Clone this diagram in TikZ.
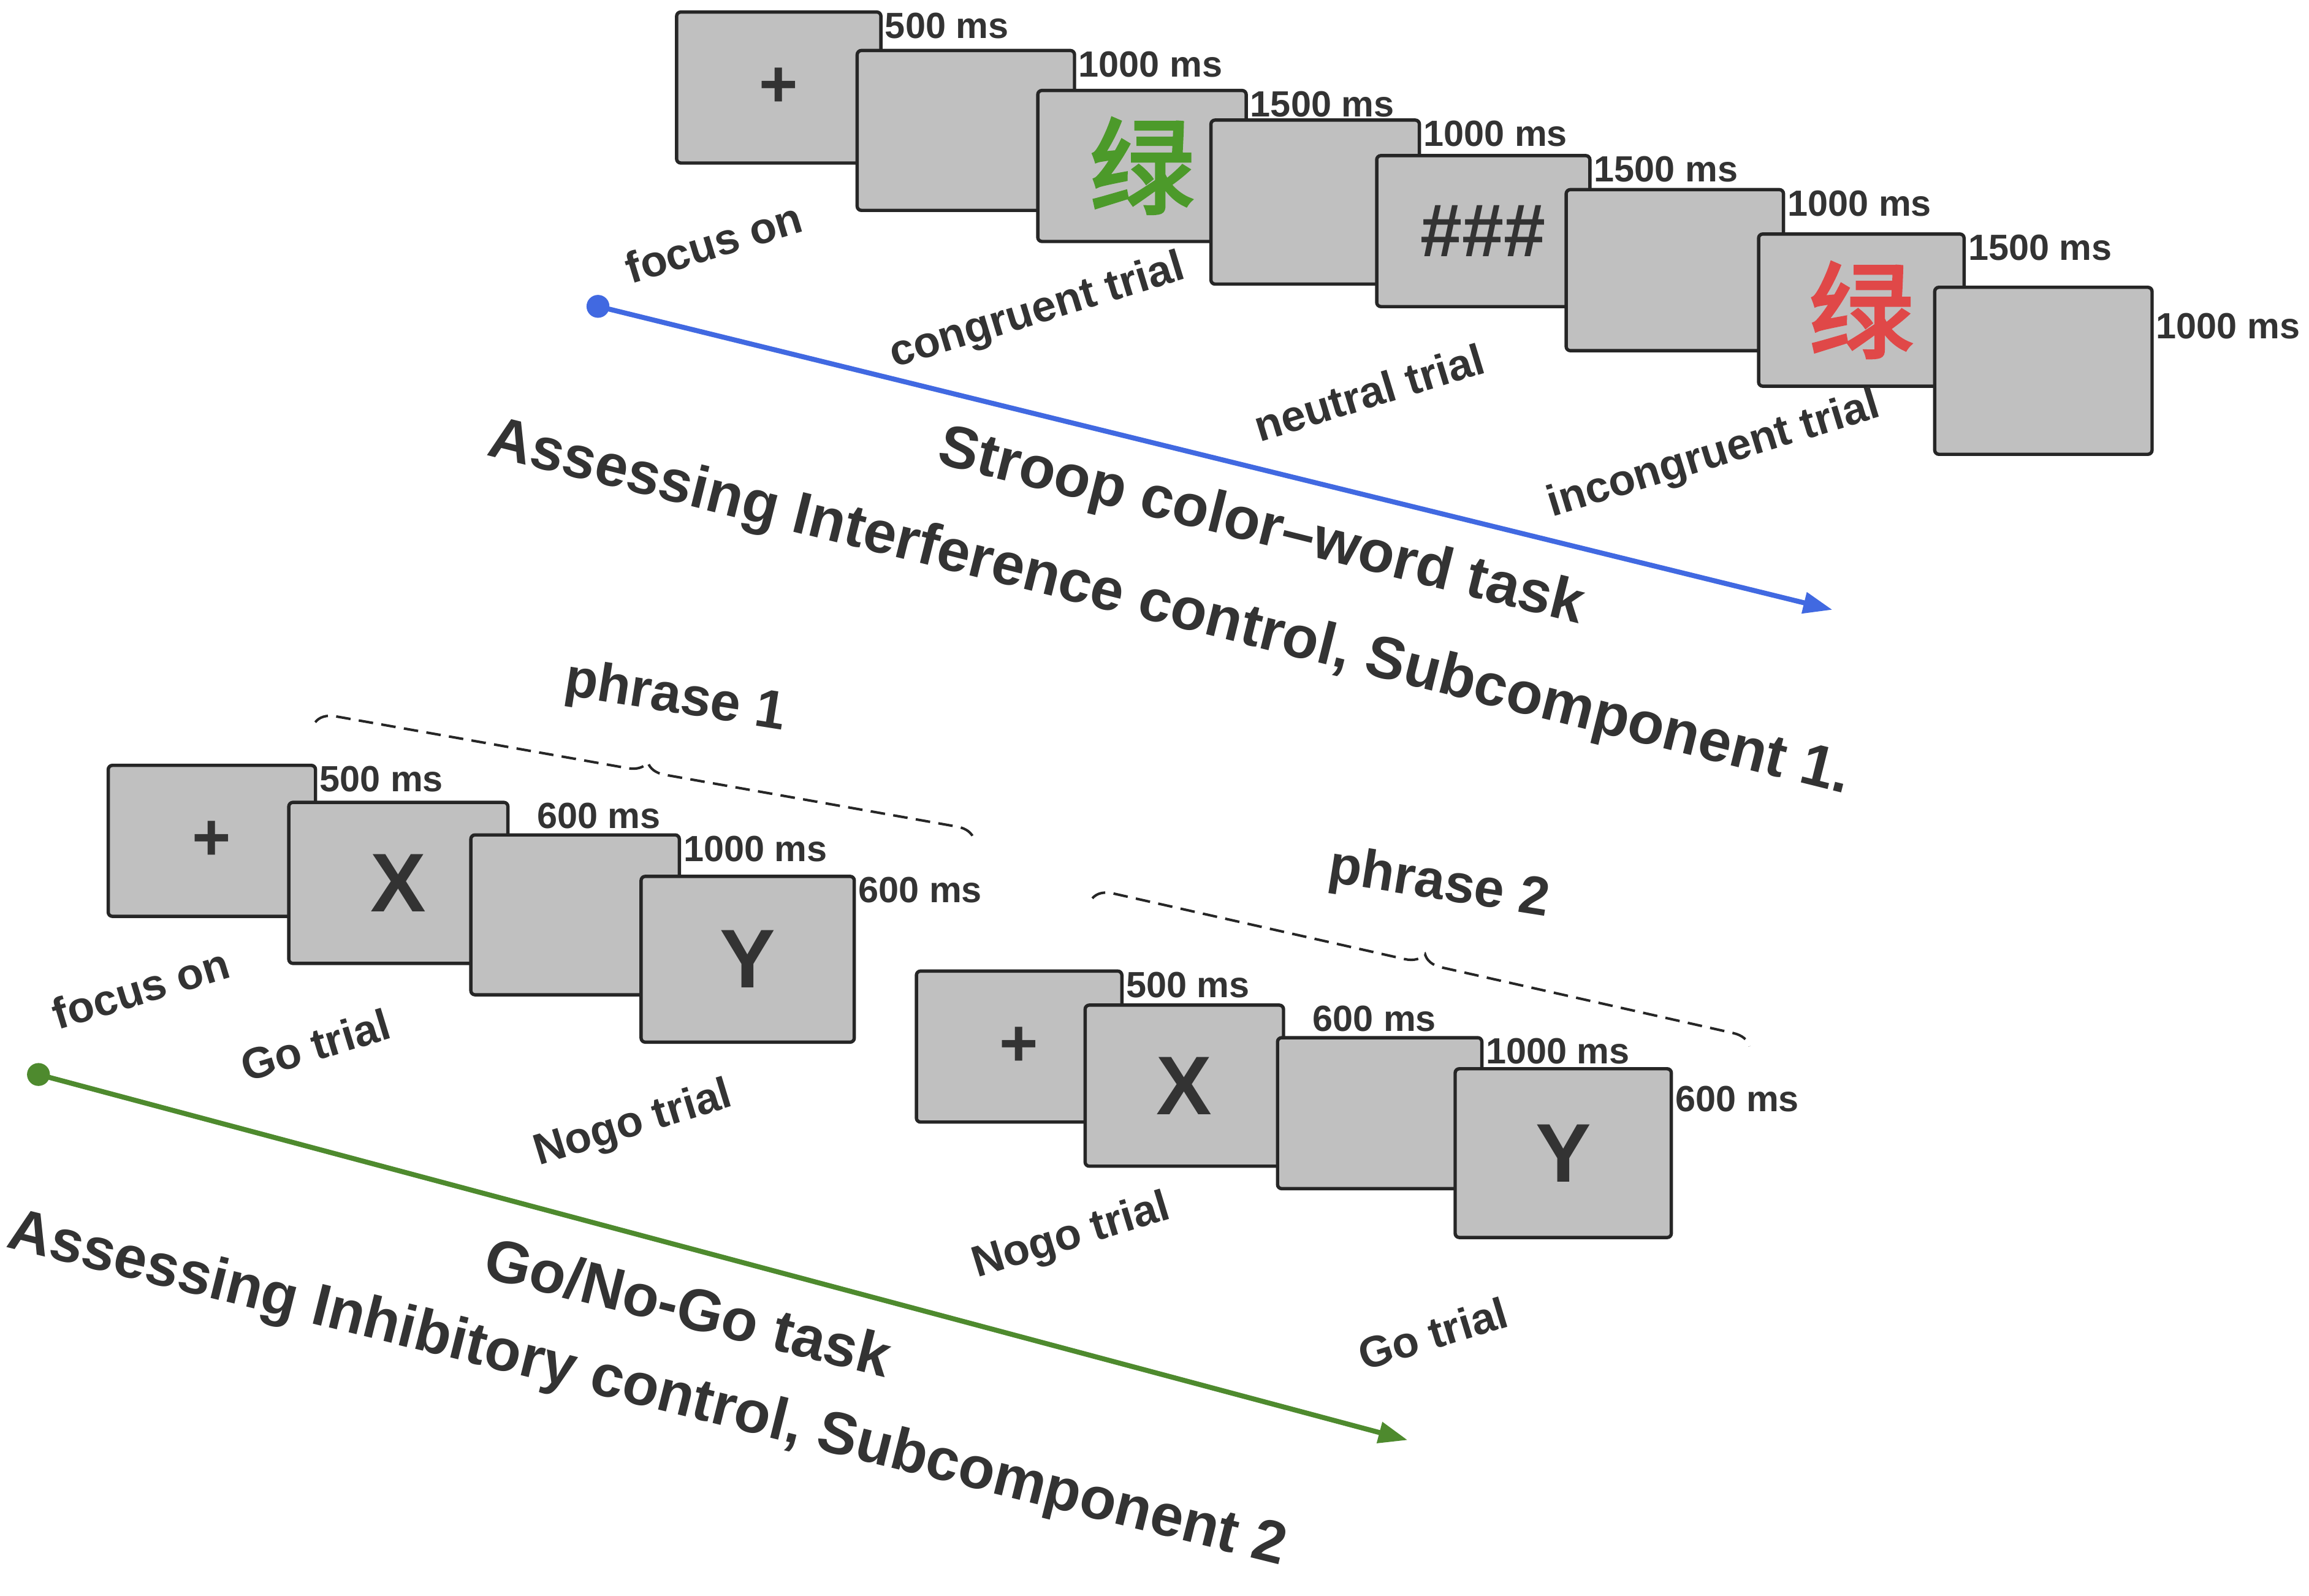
\documentclass[tikz,border=0pt]{standalone}
\usepackage{fontspec}
\setmainfont{Liberation Sans}
\newfontfamily\cjk{Noto Sans CJK SC}[FakeBold=3]
\usetikzlibrary{arrows.meta,decorations.pathreplacing}
\definecolor{trialgray}{HTML}{C0C0C0}
\definecolor{trialtext}{HTML}{333333}
\definecolor{stroopblue}{HTML}{4169E1}
\definecolor{gogreen}{HTML}{4E8A2E}
\definecolor{wordgreen}{HTML}{4C9A2A}
\definecolor{wordred}{HTML}{E04848}
\tikzset{
  screen/.style={draw=black!85, line width=1.6pt, fill=trialgray, rounded corners=2pt, anchor=north west, inner sep=0pt, text=trialtext, font=\bfseries\fontsize{32}{36}\selectfont},
  dur/.style={anchor=north west, inner sep=1pt, text=trialtext, font=\bfseries\fontsize{17.5}{19}\selectfont},
  trial/.style={rotate=17, text=trialtext, font=\bfseries\fontsize{21}{23}\selectfont},
  title/.style={rotate=-14, text=trialtext, font=\bfseries\fontsize{28.5}{32}\selectfont},
  phase/.style={decorate, decoration={brace, amplitude=9pt}, dash pattern=on 7pt off 4pt, line width=1.2pt, black!85},
}
\begin{document}
\begin{tikzpicture}[x=0.025cm, y=-0.025cm]
\useasboundingbox (0,0) rectangle (1560,1078);

% Stroop task screens
\node[screen, minimum width=3.45cm, minimum height=2.55cm] (s1) at (456,7) {+};
\node[screen, minimum width=3.67cm, minimum height=2.7cm] (s2) at (578,33) {};
\node[screen, minimum width=3.52cm, minimum height=2.55cm, text=wordgreen, font=\cjk\fontsize{50}{52}\selectfont] (s3) at (700,60) {绿};
\node[screen, minimum width=3.52cm, minimum height=2.77cm] (s4) at (817,80) {};
\node[screen, minimum width=3.6cm, minimum height=2.55cm, font=\bfseries\fontsize{36}{40}\selectfont] (s5) at (929,104) {\#\#\#};
\node[screen, minimum width=3.67cm, minimum height=2.72cm] (s6) at (1057,127) {};
\node[screen, minimum width=3.47cm, minimum height=2.57cm, text=wordred, font=\cjk\fontsize{50}{52}\selectfont] (s7) at (1187,157) {绿};
\node[screen, minimum width=3.67cm, minimum height=2.82cm] (s8) at (1306,193) {};

\node[dur] at (s1.north east) {500 ms};
\node[dur] at (s2.north east) {1000 ms};
\node[dur] at (s3.north east) {1500 ms};
\node[dur] at (s4.north east) {1000 ms};
\node[dur] at (s5.north east) {1500 ms};
\node[dur] at (s6.north east) {1000 ms};
\node[dur] at (s7.north east) {1500 ms};
\node[dur, yshift=-12pt] at (s8.north east) {1000 ms};

\node[trial] (sf) at (482,164) {focus on};
\node[trial] (sc) at (701,211) {congruent trial};
\node[trial] (sn) at (925,265) {neutral trial};
\node[trial] (si) at (1158,308) {incongruent trial};

\coordinate (sa) at (404,207);
\coordinate (sb) at (1238,412);
\fill[stroopblue] (sa) circle (5.5pt);
\draw[stroopblue, line width=2.4pt, -{Triangle[length=14pt, width=10pt]}] (sa) -- (sb);
\node[title] (st) at (852,357) {Stroop color–word task};
\node[title] (sx) at (790,412) {Assessing Interference control, Subcomponent 1.};

% Go/No-Go phrase 1
\node[screen, minimum width=3.5cm, minimum height=2.55cm] (g1) at (72,516) {+};
\node[screen, minimum width=3.7cm, minimum height=2.72cm, font=\bfseries\fontsize{40}{44}\selectfont] (g2) at (194,541) {X};
\node[screen, minimum width=3.52cm, minimum height=2.7cm] (g3) at (317,563) {};
\node[screen, minimum width=3.6cm, minimum height=2.8cm, font=\bfseries\fontsize{40}{44}\selectfont] (g4) at (432,591) {Y};
\node[dur] at (g1.north east) {500 ms};
\node[dur, xshift=12pt] at (g2.north east) {600 ms};
\node[dur] at (g3.north east) {1000 ms};
\node[dur] at (g4.north east) {600 ms};

% Go/No-Go phrase 2
\node[screen, minimum width=3.47cm, minimum height=2.55cm] (h1) at (618,655) {+};
\node[screen, minimum width=3.35cm, minimum height=2.72cm, font=\bfseries\fontsize{40}{44}\selectfont] (h2) at (732,678) {X};
\node[screen, minimum width=3.45cm, minimum height=2.55cm] (h3) at (862,700) {};
\node[screen, minimum width=3.65cm, minimum height=2.85cm, font=\bfseries\fontsize{40}{44}\selectfont] (h4) at (982,721) {Y};
\node[dur] at (h1.north east) {500 ms};
\node[dur, xshift=12pt] at (h2.north east) {600 ms};
\node[dur] at (h3.north east) {1000 ms};
\node[dur, yshift=-8pt] at (h4.north east) {600 ms};

\coordinate (p1a) at (213,488);
\coordinate (p1b) at (658,567);
\coordinate (p2a) at (738,607);
\coordinate (p2b) at (1182,707);
\draw[phase] (p1a) -- (p1b);
\draw[phase] (p2a) -- (p2b);
\node[title, rotate=5, font=\bfseries\fontsize{26}{30}\selectfont] (ph1) at (456,472) {phrase 1};
\node[title, rotate=5, font=\bfseries\fontsize{26}{30}\selectfont] (ph2) at (972,598) {phrase 2};

\node[trial] (gf) at (95,668) {focus on};
\node[trial] (gg) at (213,706) {Go trial};
\node[trial] (gn) at (428,760) {Nogo trial};
\node[trial] (hn) at (724,836) {Nogo trial};
\node[trial] (hg) at (968,901) {Go trial};

\coordinate (ga) at (26,726);
\coordinate (gb) at (951,973);
\fill[gogreen] (ga) circle (5.5pt);
\draw[gogreen, line width=2.4pt, -{Triangle[length=14pt, width=10pt]}] (ga) -- (gb);
\node[title] (gt) at (465,883) {Go/No-Go task};
\node[title] (gx) at (437,940) {Assessing Inhibitory control, Subcomponent 2};
\end{tikzpicture}
\end{document}
